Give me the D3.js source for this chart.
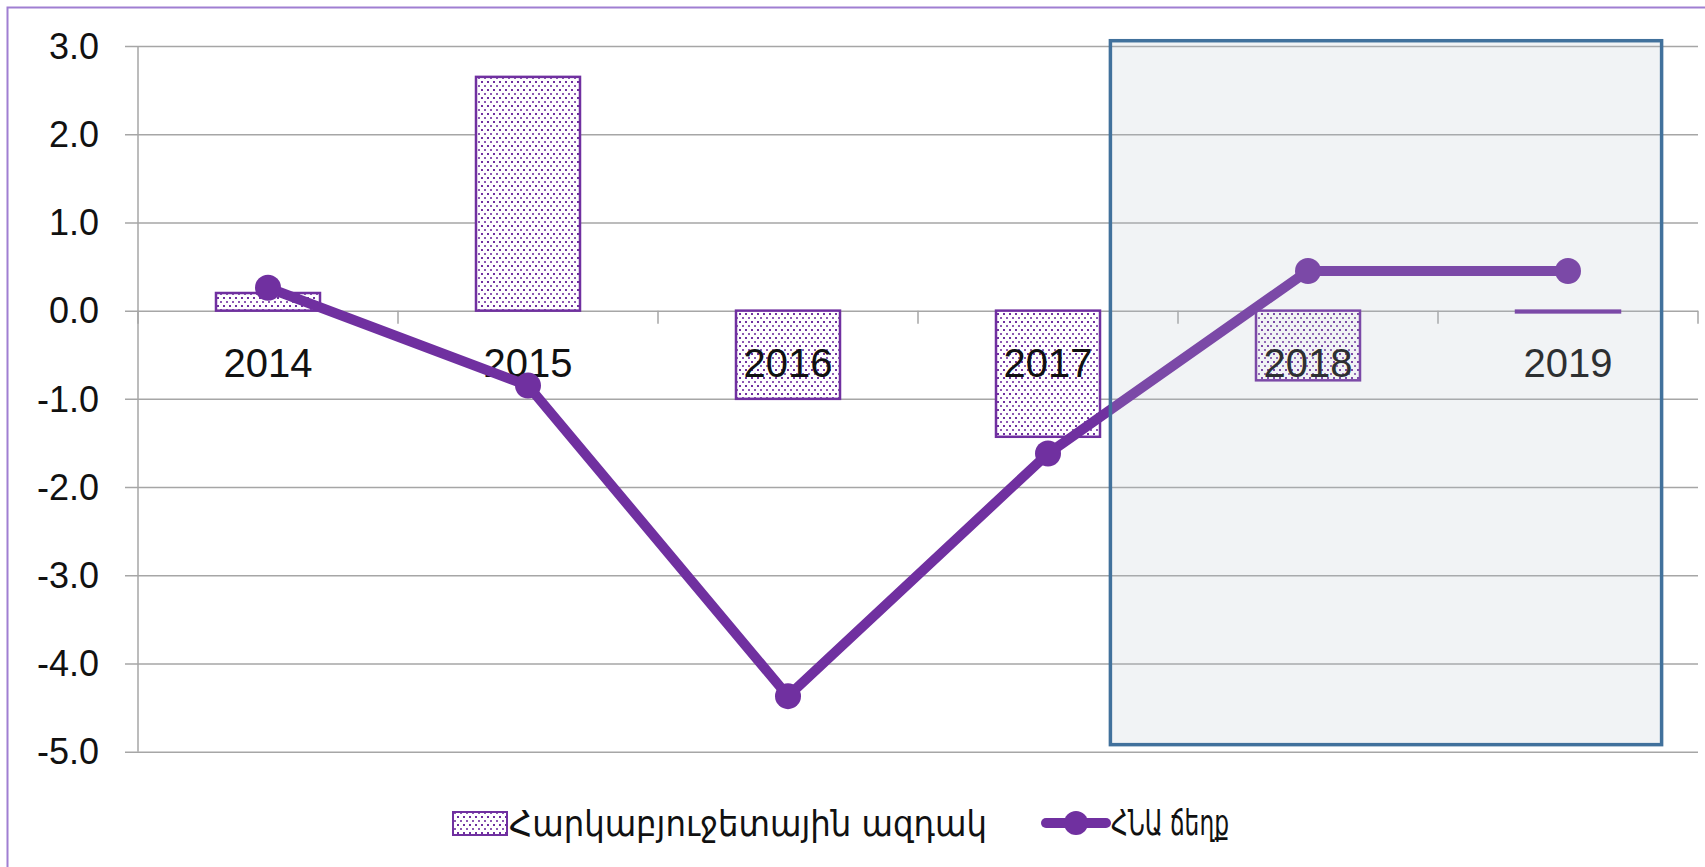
<!DOCTYPE html>
<html>
<head>
<meta charset="utf-8">
<script src="https://cdn.jsdelivr.net/npm/d3@7"></script>
<style>
  html, body { margin: 0; padding: 0; background: #fff; overflow: hidden; }
</style>
</head>
<body>
<svg width="1705" height="867"></svg>
<script>
"use strict";

// chart data
var years = ["2014", "2015", "2016", "2017", "2018", "2019"];
var impulse = [0.2, 2.65, -1.0, -1.43, -0.79, -0.02];   // Հարկաբյուջետային ազդակ
var gdpGap = [0.26, -0.85, -4.37, -1.62, 0.45, 0.45];   // ՀՆԱ ճեղք
var yTicks = [3, 2, 1, 0, -1, -2, -3, -4, -5];
var seriesNames = ["Հարկաբյուջետային ազդակ", "ՀՆԱ ճեղք"];
var shadeSpan = [3.74, 5.86];      // forecast box, in category units
var shadeValues = [3.06, -4.92];

(function() {
  window.addEventListener("load", init);

  function init() {
    var svg = d3.select("svg");
    var purple = "#7030a0";
    var fmt = d3.format(".1f");

    var x = d3.scaleBand()
      .domain(years)
      .range([138, 1698])
      .paddingInner(0.6)
      .paddingOuter(0.3);
    var xIdx = d3.scaleLinear().domain([0, years.length]).range([138, 1698]);
    var y = d3.scaleLinear().domain([-5, 3]).range([751.7, 46]);

    // dotted fill
    var defs = svg.append("defs");
    var pat = defs.append("pattern")
      .attr("id", "dots")
      .attr("patternUnits", "userSpaceOnUse")
      .attr("width", 6)
      .attr("height", 8);
    pat.append("rect").attr("width", 6).attr("height", 8).attr("fill", "#fff");
    pat.append("rect").attr("x", 1).attr("y", 1).attr("width", 2).attr("height", 2).attr("fill", purple);
    pat.append("rect").attr("x", 4).attr("y", 5).attr("width", 2).attr("height", 2).attr("fill", purple).attr("opacity", 0.8);

    // outer frame (only top/left visible)
    svg.append("rect")
      .attr("x", 7.5).attr("y", 7.5)
      .attr("width", 1800).attr("height", 950)
      .attr("fill", "none")
      .attr("stroke", "#a07fd2")
      .attr("stroke-width", 2);

    // gridlines
    var yAxis = d3.axisLeft(y)
      .tickValues(yTicks)
      .tickSize(-(1698 - 125))
      .tickFormat(function(d) { return fmt(d).replace("\u2212", "-"); });
    var ya = svg.append("g")
      .attr("transform", "translate(125,0)")
      .call(yAxis);
    ya.select(".domain").remove();
    ya.selectAll(".tick line")
      .attr("stroke", "#a6a6a6")
      .attr("stroke-width", 1.5);
    ya.selectAll(".tick text")
      .attr("x", -26)
      .attr("dy", "0.34em")
      .style("font-family", "'Liberation Sans', Arial, sans-serif")
      .style("font-size", "36px")
      .attr("fill", "#111");

    // vertical axis line
    svg.append("line")
      .attr("x1", 138).attr("x2", 138)
      .attr("y1", y(3)).attr("y2", y(-5))
      .attr("stroke", "#a6a6a6")
      .attr("stroke-width", 1.5);

    // category ticks on zero line
    svg.append("g").selectAll("line")
      .data(d3.range(years.length + 1))
      .enter().append("line")
      .attr("x1", function(d) { return xIdx(d); })
      .attr("x2", function(d) { return xIdx(d); })
      .attr("y1", y(0))
      .attr("y2", y(0) + 13)
      .attr("stroke", "#a6a6a6")
      .attr("stroke-width", 1.5);

    // bars
    svg.append("g").selectAll("rect")
      .data(impulse)
      .enter().append("rect")
      .attr("x", function(d, i) { return x(years[i]); })
      .attr("y", function(d) { return y(Math.max(0, d)); })
      .attr("width", x.bandwidth())
      .attr("height", function(d) { return Math.abs(y(d) - y(0)); })
      .attr("fill", "url(#dots)")
      .attr("stroke", purple)
      .attr("stroke-width", 2.5);

    // category labels
    svg.append("g").selectAll("text")
      .data(years)
      .enter().append("text")
      .attr("x", function(d) { return x(d) + x.bandwidth() / 2; })
      .attr("y", 377)
      .attr("text-anchor", "middle")
      .style("font-family", "'Liberation Sans Narrow', 'Liberation Sans', sans-serif")
      .style("font-size", "40px")
      .attr("fill", "#111")
      .text(function(d) { return d; });

    // gdp gap line
    var line = d3.line()
      .x(function(d, i) { return x(years[i]) + x.bandwidth() / 2; })
      .y(function(d) { return y(d); });
    svg.append("path")
      .datum(gdpGap)
      .attr("d", line)
      .attr("fill", "none")
      .attr("stroke", purple)
      .attr("stroke-width", 10)
      .attr("stroke-linejoin", "round");
    svg.append("g").selectAll("circle")
      .data(gdpGap)
      .enter().append("circle")
      .attr("cx", function(d, i) { return x(years[i]) + x.bandwidth() / 2; })
      .attr("cy", function(d) { return y(d); })
      .attr("r", 13)
      .attr("fill", purple);

    // forecast box overlay
    svg.append("rect")
      .attr("x", xIdx(shadeSpan[0]))
      .attr("y", y(shadeValues[0]))
      .attr("width", xIdx(shadeSpan[1]) - xIdx(shadeSpan[0]))
      .attr("height", y(shadeValues[1]) - y(shadeValues[0]))
      .attr("fill", "#b4bcc8")
      .attr("fill-opacity", 0.18)
      .attr("stroke", "#41719c")
      .attr("stroke-width", 3.5);

    // legend
    var lg = svg.append("g").attr("transform", "translate(0,823)");
    lg.append("rect")
      .attr("x", 453).attr("y", -11)
      .attr("width", 54).attr("height", 23)
      .attr("fill", "url(#dots)")
      .attr("stroke", purple)
      .attr("stroke-width", 2);
    lg.append("text")
      .attr("x", 509).attr("y", 0).attr("dy", "0.35em")
      .attr("textLength", 478)
      .attr("lengthAdjust", "spacingAndGlyphs")
      .style("font-family", "'DejaVu Sans Condensed', 'DejaVu Sans', sans-serif")
      .style("font-size", "36px")
      .attr("fill", "#111")
      .text(seriesNames[0]);
    lg.append("line")
      .attr("x1", 1046).attr("x2", 1106)
      .attr("y1", 0).attr("y2", 0)
      .attr("stroke", purple)
      .attr("stroke-width", 10)
      .attr("stroke-linecap", "round");
    lg.append("circle")
      .attr("cx", 1076).attr("cy", 0).attr("r", 12)
      .attr("fill", purple);
    lg.append("text")
      .attr("x", 1111).attr("y", 0).attr("dy", "0.35em")
      .attr("textLength", 118)
      .attr("lengthAdjust", "spacingAndGlyphs")
      .style("font-family", "'DejaVu Sans Condensed', 'DejaVu Sans', sans-serif")
      .style("font-size", "35px")
      .attr("fill", "#111")
      .text(seriesNames[1]);
  }
})();
</script>
</body>
</html>
